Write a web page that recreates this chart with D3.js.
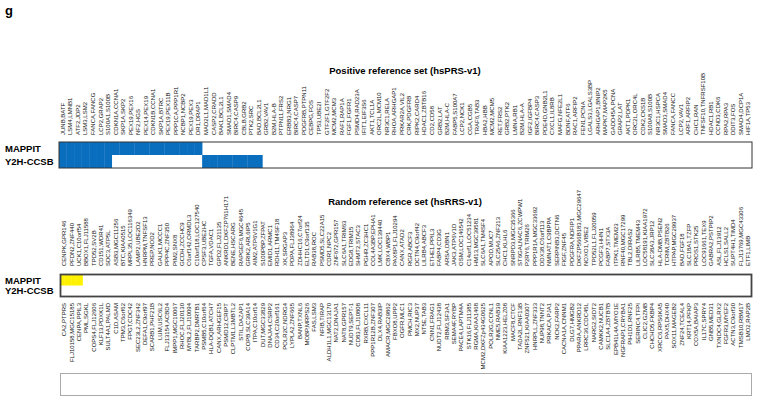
<!DOCTYPE html>
<html><head><meta charset="utf-8">
<script src="https://cdn.jsdelivr.net/npm/d3@7"></script>
<style>
html,body{margin:0;padding:0;background:#fff;}
svg{display:block;font-family:"Liberation Sans",Arial,sans-serif;}
</style></head>
<body><svg id="c" width="762" height="401"></svg>
<script>
const panelLetter = "g";
const methods = ["MAPPIT", "Y2H-CCSB"];
const posTitle = "Positive reference set (hsPRS-v1)";
const randTitle = "Random reference set (hsRRS-v1)";

const posPairs = ["JUNB,BATF","LSM4,LMNB1","ATF2,JDP2","LSM3,LSM2","FANCA,FANCG","LCP2,GRAP2","S100A1,S100B","CDKN1A,CCNA1","SKP1A,SKP2","PEX19,PEX16","NF2,HGS","PEX14,PEX19","CDKN1B,CCNA1","SKP1A,BTRC","PEX19,PEX11B","PPP1CA,PPP1R1","NCBP1,NCBP2","PEX19,PEX3","DR1,DRAP1","MAD2L1,MAD1L1","CASP2,CRADD","BAK1,BCL2L1","SMAD1,SMAD4","BIRC4,CASP9","CBLB,GRB2","PTK2,SRC","BAD,BCL2L1","GRB2,VAV1","B2M,HLA-B","PTPN11,FRS2","ERBB3,NRG1","BIRC4,CASP7","PDGFRB,PTPN11","CEBPG,FOS","TP53,UBE2I","GTF2F1,GTF2F2","MCM2,MCM3","RAF1,RAP1A","FGF1,FGFR1","PSMD4,RAD23A","IFIT1,EIF3S6","AKT1,TCL1A","ORC2L,MCM10","NR3C1,RELA","RHOA,ARHGAP1","PRKAR2A,VIL2","CRK,PDGFRB","RIPK2,CARD4","HDAC1,ZBTB16","CD2,CD58","GRB2,LAT","B2M,HLA-C","FABP5,S100A7","LCP2,NCK1","CGA,CGB5","TRAF6,TAB3","HBA2,HBB","MCM2,MCM5","RET,FRS2","GRB2,PTK2","LMNA,RB1","B2M,HLA-A","IGF2,IGFBP4","BIRC4,CASP3","PDE4D,GNB2L1","CXCL1,IL8RB","MAFG,NFE2L1","BDNF,ATF6","RAC1,ARFIP2","FEN1,PCNA","LGALS3,LGALS3BP","ARHGAP1,BNIP2","MAPK7,MAP2K5","GADD45A,PCNA","GRAP2,LAT","AKT1,PDPK1","ORC2L,ORC4L","CDK2,CKS1B","S100A8,S100B","NR3C1,HSPCA","SMAD3,SMAD4","FANCA,FANCC","LCP2,VAV1","ARF1,ARFIP2","CHC1,RAN","TNFSF10,TNFRSF10B","HDAC1,RB1","CCND3,CDK6","RPA2,RPA3","DDIT3,FOS","SMAD4,DCP1A","HIF1A,TP53"];

// 1 = interaction detected, 0 = not detected (one value per positive pair)
const posMAPPIT = [1,1,1,1,1,1,1,1,1,1,1,1,1,1,1,1,1,1,1,0,0,0,0,0,0,0,0,0,0,0,0,0,0,0,0,0,0,0,0,0,0,0,0,0,0,0,0,0,0,0,0,0,0,0,0,0,0,0,0,0,0,0,0,0,0,0,0,0,0,0,0,0,0,0,0,0,0,0,0,0,0,0,0,0,0,0,0,0,0,0,0,0];
const posY2H    = [1,1,1,1,1,1,1,0,0,0,0,0,0,0,0,0,0,0,0,1,1,1,1,1,1,1,1,0,0,0,0,0,0,0,0,0,0,0,0,0,0,0,0,0,0,0,0,0,0,0,0,0,0,0,0,0,0,0,0,0,0,0,0,0,0,0,0,0,0,0,0,0,0,0,0,0,0,0,0,0,0,0,0,0,0,0,0,0,0,0,0,0];

const randTopPairs = ["CENPK,GPR146","PFDN2,ZNF440","UCK1,C10orf54","BBOX1,FLJ11588","TPD52,SV2B","CD151,WDR41","SDC3,ATP5L","ASB3,MGC11256","BTC,KIAA0515","MRPL35,LOC116349","LAMP2,UBE2D2","HNRPM,TNFSF13","PREP,NOD2","GALK1,MCCC1","PPP4C,ZNF350","PIM2,SNX8","GCDH,ZCCHC9","C6orf142,ORMDL3","C10orf118,LOC127540","CPSF3,UBE2HC","TGFA,VDAC1","GPD2,FLJ21135","ANKRD1,DKFZP761H171","BENE,HSCARG","RAPGEF6,MGC4645","GRIK2,ARL6IP5","AIM2,ATP6V1G1","S100PBP,ZFPAT","EMID1,ARMC1","RDH11,TM4SF18","XK,SRGAP3","PDPA,FLJ38964","ZDHHC16,C7orf24","ELTD1,C9orf135","RAB38,ROC","PSMD5,SLC22A15","CDR1,NPC2","ZNF672,GPR157","SLC6A1,TRIM63","EDG8,TRIM15","SHMT2,STAC3","PGHR,ZC3HC1","COL4A3BP,EPHA1","LMK,LOC139440","CBX4,WBP1","PAX8P1,FLJ10294","CANX,ATAD2","RGR,ABCF3","DCTN4,C9orf42","LILRB4,ABCF3","ETHE1,PPIL3","FABP4,CD3G","ARSA,DBN1","JAK3,ATP6V1D","OSM,LOC146542","C14orf1,LOC51234","HM13,MGC39581","SLC6A1,TM4SF4","APOD,MUC7","SLC25A6,ZNF213","CHC1,KLHL6","SNRPD3,MGC35366","ST6GALNAC6,ZCWPW1","P2RY6,TRIM26","PPP1R1A,MGC33692","DDX38,C6orf113","NMNAT1,C9BPPA","SERPINB3,DCTN6","FIGF,ZNF45","PDGFRA,NDFIP1","DKFZP566B183,MGC29647","NOXO1,VIBE2","TPD52L1,FLJ20059","PCGF3,HHN1","FABP7,STX3A","ITPK1,TMEM23","RNF40,MGC17299","TBL2,DIRAS2","LILRB5,TMEM43","LOC58191,KIAA1972","SLC38A3,JRP12","HLA-DMB,PSEN2","TCRIM,ZBTB26","HTPAP,MGC29937","BAD,FGF18","SLC18A1,TZFP","PROS1,STK25","LOC91661,TEX9","GABRA2,PSTPIP2","ASL,FLJ13912","HCLS1,SALL2","SUPT4H1,TIMD4","FLJ13769,MGC43306","ETF1,LIMB"];

const randBottomPairs = ["CA2,PTPRS","FLJ10158,MGC15185","CENPA,PPIL3","PML,SGKL","COPS4,FLJ12606","KLF13,PDXK1L","SULT4A1,PALMD","C1D,ASAM","TPM3,C6orf62","FPGT,CDC42","SEC23L2,ZNF342","DEFA1,C9orf97","SCARB1,PHF21B","LUM,USC6L2","FLJ13154,ACBD4","IMPP1,MGC10067","RHOC,FLJ20130","MYBL2,FLJ10094","TARBP2,DMRTB1","PSMB5,C10orf64","HLA-DQB1,ATCH7","CANX,ARHGEF15","PSMD12,CRIPT","CLPTM1,L3MBTL2","STIL,DAZAP1","COPB,SLC39A14","ITPA,C10orf14","DUT,MGC33829","DNAJA4,CSRP2","CD34,C20orf161","POLR2C,NDRG4","LYPLA2,ZNF665","BANP,TXNL6","MOBP,MRPS26","FAS,LSM3","NFIB,TIRAP","ALDH1L1,MGC13170","NAT2,DNAJA1","NAT8,GPR157","NUDT9,SEPT-1","CD83,FLJ10808","RXRB,CXCL11","PPP1R12B,ZNF307","DLX4,RAB3IP","AMACR,MGC29862","FBXO8,UPP2","OGFR,MLC1","PMCH,RIC3","MX2,NUP37","NT5E,TAB3","CNN1,FRAG1","NUDT2,FLJ12438","RBM3,SF3A1","SEMA4F,RYBP","PACE4,LAPTM4A","STK16,FLJ11385","RGMA,KIAA1468","MCM2,DKFZp434G0625","POLR2G,CCNL1","NME5,RAB39","KIAA1223,HELZ08","MACF8,CTCF","TADA2L,RNF13B","ZNF521,KIAA0307","HNRPLL,ZNF333","NUP98,TNNT2","PRKACA,PJA1","NCK2,FARP2","CACNA1A,CNNM1","DLG7,HMGB2","PPARA,ANKRD12","LRRC36,CDC45L","NARG2,SIDT2","CAMKK2,NUCB1","SLC1A4,ZBTB7B","EPB41L4A,MYO1E","NGFRAP1,CRYBA1","PIH1D1,RNF25","SERINC4,TFPI","CLIC2,GZMB","CHCHD5,FKBP4","XRCC6,RPS6KA5","PAX5,DHX40","SOX11,MAGEB2","ZNF24,TCEAL4","KRT14,PFKP","COX5A,BAIAP3","IL17C,SPRY4","GNB5,MED31","TXNDC4,GLRX2","FGFR3,MYEF2","ACTN3,C9orf30","TMSB10,RBM17","LMO2,RAP2B"];

// random set: columns interleave top and bottom pairs; MAPPIT detections first
const randMAPPITcount = 6;
const randY2Hcount = 0;

const svg = d3.select("#c");
const labelFont = 6;

svg.append("text").attr("x", 5).attr("y", 15).attr("font-size", 13).attr("font-weight", "bold").text(panelLetter);

// ---------- Positive panel ----------
const xP = d3.scaleBand().domain(posPairs).range([59, 752]);
const yP = d3.scaleBand().domain(methods).range([142, 168]);
const posData = [posMAPPIT, posY2H];

svg.append("text").attr("x", 405).attr("y", 74).attr("text-anchor", "middle")
  .attr("font-size", 9.5).attr("font-weight", "bold").text(posTitle);

svg.append("g").attr("fill", "#111").selectAll("text").data(posPairs).join("text")
  .attr("transform", d => `translate(${xP(d) + xP.bandwidth()/2},135) rotate(-90)`)
  .attr("dy", "0.35em").attr("font-size", labelFont).attr("text-anchor", "start").text(d => d);

methods.forEach((m, i) => {
  svg.append("g").selectAll("rect").data(posPairs.map((p, j) => ({p, v: posData[i][j]})).filter(d => d.v))
    .join("rect").attr("x", d => xP(d.p)).attr("width", xP.bandwidth() + 0.3)
    .attr("y", yP(m)).attr("height", yP.bandwidth()).attr("fill", "#0a6ebf");
  svg.append("text").attr("x", 5).attr("y", yP(m) + yP.bandwidth()/2).attr("dy", "0.35em")
    .attr("font-size", 9.5).attr("font-weight", "bold").text(m);
});
svg.append("rect").attr("x", 59).attr("y", 142).attr("width", 693).attr("height", 26)
  .attr("fill", "none").attr("stroke", "#333").attr("stroke-width", 1);

// ---------- Random panel ----------
const randCols = [];
randTopPairs.forEach((p, i) => { randCols.push({pair: p, side: "top"}); if (randBottomPairs[i]) randCols.push({pair: randBottomPairs[i], side: "bottom"}); });
const randIds = randCols.map((d, i) => i);
const xR = d3.scaleBand().domain(randIds).range([60.5, 751.5]);
const yR = d3.scaleBand().domain(methods).range([275, 296]);

svg.append("text").attr("x", 405).attr("y", 205).attr("text-anchor", "middle")
  .attr("font-size", 9.5).attr("font-weight", "bold").text(randTitle);

svg.append("g").attr("fill", "#111").selectAll("text").data(randCols.map((d, i) => ({...d, i})).filter(d => d.side === "top")).join("text")
  .attr("transform", d => `translate(${xR(d.i) + xR.bandwidth()},266) rotate(-90)`)
  .attr("dy", "0.35em").attr("font-size", labelFont).attr("text-anchor", "start").text(d => d.pair);
svg.append("g").attr("fill", "#111").selectAll("text").data(randCols.map((d, i) => ({...d, i})).filter(d => d.side === "bottom")).join("text")
  .attr("transform", d => `translate(${xR(d.i)},303) rotate(-90)`)
  .attr("dy", "0.35em").attr("font-size", labelFont).attr("text-anchor", "end").text(d => d.pair);

const randDet = {"MAPPIT": randMAPPITcount, "Y2H-CCSB": randY2Hcount};
methods.forEach(m => {
  svg.append("g").selectAll("rect").data(randIds.slice(0, randDet[m])).join("rect")
    .attr("x", d => xR(d)).attr("width", xR.bandwidth() + 0.3)
    .attr("y", yR(m)).attr("height", yR.bandwidth()).attr("fill", "#fff200");
  svg.append("text").attr("x", 5).attr("y", yR(m) + yR.bandwidth()/2).attr("dy", "0.35em")
    .attr("font-size", 9.5).attr("font-weight", "bold").text(m);
});
svg.append("rect").attr("x", 60.5).attr("y", 274.5).attr("width", 691).attr("height", 22)
  .attr("fill", "none").attr("stroke", "#444").attr("stroke-width", 1.8);

// lower box (cut-off next panel)
svg.append("rect").attr("x", 60.5).attr("y", 373.5).attr("width", 691).attr("height", 22)
  .attr("fill", "none").attr("stroke", "#aaa").attr("stroke-width", 1);
</script></body></html>
